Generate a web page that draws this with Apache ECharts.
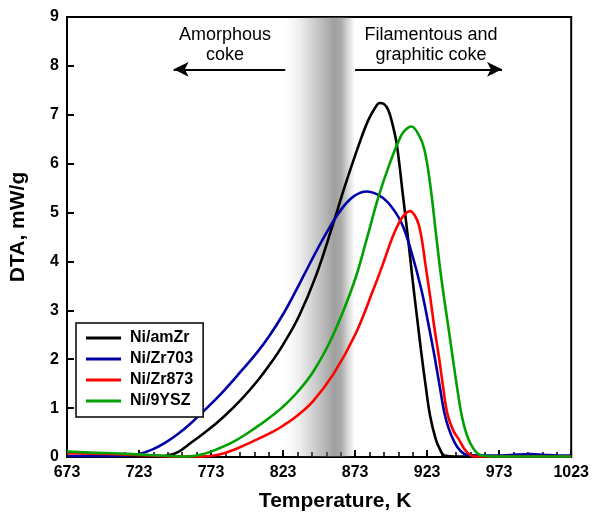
<!DOCTYPE html>
<html>
<head>
<meta charset="utf-8">
<script src="https://cdn.jsdelivr.net/npm/echarts@6/dist/echarts.min.js"></script>
<style>html,body{margin:0;padding:0;background:#fff;}#c{width:592px;height:517px;}</style>
</head>
<body>
<div id="c"></div>
<script>
// ---- data ----
const seriesNames = ['Ni/amZr', 'Ni/Zr703', 'Ni/Zr873', 'Ni/9YSZ'];
const xTicks = [673, 723, 773, 823, 873, 923, 973, 1023];

const blackT = [673, 700, 723, 735, 743, 750, 759, 770, 782, 794, 805, 814, 823, 834, 846, 857, 866, 876, 882, 887, 890, 893, 896, 899, 902, 906, 910, 913, 916, 919, 922, 925, 929, 932, 935, 945, 960, 980, 1000, 1023];
const blackV = [0.01, 0.01, 0.01, 0.01, 0.03, 0.1, 0.29, 0.53, 0.83, 1.18, 1.55, 1.9, 2.3, 2.88, 3.72, 4.7, 5.55, 6.42, 6.88, 7.15, 7.24, 7.22, 7.1, 6.8, 6.38, 5.4, 4.4, 3.6, 2.85, 2.12, 1.45, 0.85, 0.36, 0.15, 0.03, 0.01, 0.01, 0.01, 0.01, 0.01];

const blueT = [673, 700, 715, 723, 732, 741, 750, 759, 770, 782, 794, 805, 814, 823, 831, 838, 845, 853, 863, 872, 881, 889, 896, 905, 912, 919, 924, 928, 932, 935, 938, 942, 946, 951, 960, 975, 985, 995, 1005, 1015, 1023];
const blueV = [0.02, 0.02, 0.03, 0.06, 0.15, 0.29, 0.47, 0.69, 1.0, 1.36, 1.76, 2.14, 2.5, 2.92, 3.35, 3.75, 4.15, 4.58, 5.05, 5.33, 5.43, 5.36, 5.2, 4.8, 4.2, 3.42, 2.7, 2.08, 1.4, 0.9, 0.58, 0.3, 0.13, 0.04, 0.03, 0.03, 0.05, 0.06, 0.04, 0.03, 0.03];

const redT = [673, 690, 710, 730, 750, 765, 775, 789, 805, 816, 823, 833, 844, 858, 873, 886, 892, 899, 904, 908, 911, 916, 919, 922, 925, 928, 931, 934, 937, 941, 945, 950, 956, 970, 1000, 1023];
const redV = [0.08, 0.07, 0.05, 0.03, 0.01, 0.01, 0.03, 0.15, 0.36, 0.52, 0.64, 0.85, 1.15, 1.7, 2.5, 3.45, 3.92, 4.5, 4.82, 4.98, 5.03, 4.85, 4.5, 3.9, 3.3, 2.65, 2.08, 1.45, 0.89, 0.55, 0.36, 0.12, 0.01, 0.01, 0.01, 0.01];

const greenT = [673, 690, 710, 730, 745, 755, 763, 772, 789, 805, 816, 823, 833, 844, 857, 872, 881, 889, 897, 905, 909, 912, 917, 921, 925, 929, 932, 935, 938, 941, 944, 947, 950, 953, 957, 961, 970, 1000, 1023];
const greenV = [0.11, 0.09, 0.07, 0.04, 0.02, 0.01, 0.03, 0.1, 0.32, 0.62, 0.86, 1.03, 1.33, 1.75, 2.45, 3.55, 4.45, 5.3, 6.0, 6.58, 6.72, 6.76, 6.6, 6.3, 5.6, 4.6, 3.85, 3.2, 2.6, 1.98, 1.38, 0.85, 0.5, 0.28, 0.1, 0.03, 0.01, 0.01, 0.01];

const bandRange = [824.5, 873];
const leftArrow = [[824.5, 7.93], [747, 7.93]];
const rightArrow = [[873, 7.93], [975, 7.93]];

// ---- chart ----
const FONT = "'Liberation Sans', Arial, sans-serif";
const zip = (t, v) => t.map((x, i) => [x, v[i]]);
const colors = ['#000000', '#0000a8', '#ff0000', '#00a000'];
const dataSets = [zip(blackT, blackV), zip(blueT, blueV), zip(redT, redV), zip(greenT, greenV)];

const chart = echarts.init(document.getElementById('c'), null, {renderer: 'canvas'});

const lineSeries = seriesNames.map((n, i) => ({
  name: n, type: 'line', data: dataSets[i], smooth: 0.4,
  symbol: 'none', showSymbol: false, z: 2,
  lineStyle: {color: colors[i], width: 2.6},
  itemStyle: {color: colors[i]}
}));

const overlay = {
  name: 'overlay', type: 'line', data: [], z: 5, silent: true,
  markArea: {
    silent: true,
    itemStyle: {
      color: new echarts.graphic.LinearGradient(0, 0, 1, 0, [
        {offset: 0, color: 'rgba(100,100,100,0)'},
        {offset: 0.2, color: 'rgba(100,100,100,0.1)'},
        {offset: 0.4, color: 'rgba(100,100,100,0.3)'},
        {offset: 0.55, color: 'rgba(100,100,100,0.45)'},
        {offset: 0.7, color: 'rgba(100,100,100,0.62)'},
        {offset: 0.8, color: 'rgba(100,100,100,0.55)'},
        {offset: 0.9, color: 'rgba(100,100,100,0.25)'},
        {offset: 1, color: 'rgba(100,100,100,0)'}
      ])
    },
    data: [[{xAxis: bandRange[0]}, {xAxis: bandRange[1]}]]
  },
  markLine: {
    silent: true, symbol: ['none', 'arrow'], symbolSize: [11, 15],
    label: {show: false},
    lineStyle: {color: '#000', width: 2, type: 'solid'},
    data: [
      [{coord: leftArrow[0]}, {coord: leftArrow[1]}],
      [{coord: rightArrow[0]}, {coord: rightArrow[1]}]
    ]
  }
};

chart.setOption({
  animation: false,
  backgroundColor: '#fff',
  textStyle: {fontFamily: FONT},
  grid: {left: 60, right: 19, top: 17, bottom: 45, show: true, borderColor: '#000', borderWidth: 2, backgroundColor: 'transparent'},
  xAxis: {
    type: 'value', min: xTicks[0], max: xTicks[xTicks.length - 1], interval: 50,
    name: 'Temperature, K', nameLocation: 'middle', nameGap: 34,
    nameTextStyle: {fontSize: 21, fontWeight: 'bold', color: '#000', fontFamily: FONT, padding: [0, 0, 0, 32]},
    axisLine: {show: true, lineStyle: {color: '#000', width: 2}},
    axisTick: {show: true, inside: true, length: 7, lineStyle: {color: '#000', width: 2}},
    minorTick: {show: true, splitNumber: 5, length: 5, lineStyle: {color: '#000', width: 1.5}},
    splitLine: {show: false},
    axisLabel: {fontSize: 16, fontWeight: 'bold', color: '#000', margin: 8, fontFamily: FONT, formatter: v => String(v)}
  },
  yAxis: {
    type: 'value', min: 0, max: 9, interval: 1,
    name: 'DTA, mW/g', nameLocation: 'middle', nameGap: 38,
    nameTextStyle: {fontSize: 21, fontWeight: 'bold', color: '#000', fontFamily: FONT, padding: [0, 0, 0, 20]},
    axisLine: {show: true, lineStyle: {color: '#000', width: 2}},
    axisTick: {show: true, inside: true, length: 7, lineStyle: {color: '#000', width: 2}},
    splitLine: {show: false},
    axisLabel: {fontSize: 16, fontWeight: 'bold', color: '#000', margin: 8, fontFamily: FONT}
  },
  legend: {
    data: seriesNames, orient: 'vertical', left: 76, top: 323,
    padding: [7, 10, 8, 10], itemGap: 5, itemWidth: 35, itemHeight: 16,
    icon: 'path://M0,0 L35,0 L35,3 L0,3 Z',
    borderColor: '#000', borderWidth: 1.5, backgroundColor: '#fff',
    textStyle: {fontSize: 16, fontWeight: 'bold', color: '#000', fontFamily: FONT, padding: [0, 0, 0, 4]}
  },
  graphic: [
    {type: 'text', position: [225, 45], style: {text: 'Amorphous\ncoke', font: '18px ' + FONT, fill: '#000', align: 'center', verticalAlign: 'middle', lineHeight: 20}},
    {type: 'text', position: [431, 45], style: {text: 'Filamentous and\ngraphitic coke', font: '18px ' + FONT, fill: '#000', align: 'center', verticalAlign: 'middle', lineHeight: 20}}
  ],
  series: lineSeries.concat([overlay])
});
</script>
</body>
</html>
